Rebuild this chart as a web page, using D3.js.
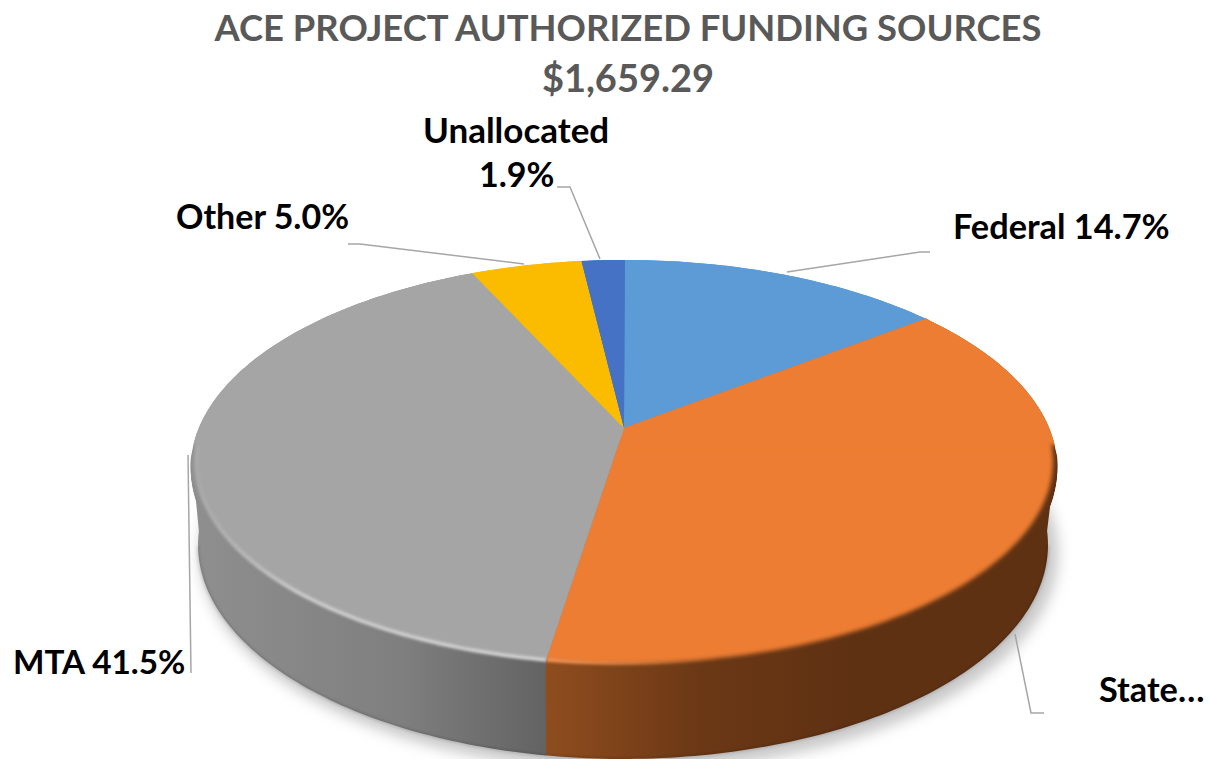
<!DOCTYPE html>
<html>
<head>
<meta charset="utf-8">
<script src="https://cdn.jsdelivr.net/npm/d3@7"></script>
<style>
  html, body { margin: 0; background: #fff; }
  text { font-family: Lato, "Open Sans", sans-serif; font-weight: 700; }
</style>
</head>
<body>
<div id="chart"></div>
<script>
'use strict';

const categories = ['Federal', 'State', 'MTA', 'Other', 'Unallocated'];
const values = [14.7, 38.7, 41.5, 5.0, 1.9];
const colors = ['#5b9bd5', '#ed7d31', '#a5a5a5', '#fbbc04', '#4472c4'];
const titleLines = ['ACE PROJECT AUTHORIZED FUNDING SOURCES', '$1,659.29'];

const width = 1210, height = 759;

// perspective of the disc: apex of the slices, then the three ellipses of the puck
const apex = { x: 624, y: 428 };
const persp = { R: 422.2, S: 195.6, k: 0.164 };
const face = { cx: 624, cy: 461, rx: 428, ry: 201 };
const rim = { cx: 624, cy: 468.5, rx: 433.5, ry: 208.5 };
const base = { cx: 623, cy: 545, rx: 425, ry: 214 };
const bevelTop = 445;

// side wall colours, left to right
const wallStops = {
  State: [[545, '#8f4d1e'], [700, '#6b3815'], [850, '#5f3113'], [1057, '#5f3113']],
  MTA: [[190, '#8f8f8f'], [400, '#7f7f7f'], [545, '#636363']]
};
const highlights = {
  State: [[545, '#ff9f5f', 0.9], [720, '#ff9f5f', 0]],
  MTA: [[195, '#dcdcdc', 0.2], [300, '#dcdcdc', 0.85], [545, '#dcdcdc', 1]]
};

const labels = [
  { key: 'Federal', lines: [['Federal 14.7%', 953, 239, 34.3]], leader: [[787, 272], [920, 252], [930, 252]] },
  { key: 'State', lines: [['State…', 1099, 702, 34.3]], leader: [[1015, 634], [1031, 713], [1044, 713]] },
  { key: 'MTA', lines: [['MTA 41.5%', 13, 674, 33.3]], leader: [[188, 455], [191, 673]] },
  { key: 'Other', lines: [['Other 5.0%', 176, 229, 34]], leader: [[524, 264], [360, 244], [348, 244]] },
  { key: 'Unallocated', lines: [['Unallocated', 423, 143, 35], ['1.9%', 479, 187, 34]], leader: [[600, 259], [570, 187], [557, 187]] }
];

const slices = d3.pie().sort(null).value(d => d.value)(
  categories.map((name, i) => ({ name, value: values[i], color: colors[i] }))
);

// angle on the disc -> point on the perspective face
const onFace = a => {
  const u = Math.sin(a), v = -Math.cos(a), w = 1 - persp.k * v;
  return [apex.x + persp.R * u / w, apex.y + persp.S * v / w];
};
// same point moved over to another ellipse of the puck
const moveTo = (p, e) => [
  e.cx + (p[0] - face.cx) / face.rx * e.rx,
  e.cy + (p[1] - face.cy) / face.ry * e.ry
];
const sweep = (a0, a1) => {
  const n = Math.max(2, Math.ceil((a1 - a0) * 60));
  return d3.range(n + 1).map(i => a0 + (a1 - a0) * i / n);
};
const line = d3.line();
// small overlap so neighbouring slices leave no white hairline
const overlap = 0.002;

const svg = d3.select('#chart').append('svg')
  .attr('width', width)
  .attr('height', height)
  .style('display', 'block');

const defs = svg.append('defs');
const blur = (id, s) => defs.append('filter').attr('id', id)
  .attr('x', '-10%').attr('y', '-10%').attr('width', '120%').attr('height', '120%')
  .append('feGaussianBlur').attr('stdDeviation', s);
blur('soft', 2.2);
blur('softer', 1.8);
blur('shadow', 7);

const hGradient = (id, stops) => {
  const g = defs.append('linearGradient').attr('id', id)
    .attr('gradientUnits', 'userSpaceOnUse')
    .attr('x1', stops[0][0]).attr('x2', stops[stops.length - 1][0])
    .attr('y1', 0).attr('y2', 0);
  const t = d3.scaleLinear().domain([stops[0][0], stops[stops.length - 1][0]]).range([0, 1]);
  stops.forEach(s => g.append('stop')
    .attr('offset', t(s[0]))
    .attr('stop-color', s[1])
    .attr('stop-opacity', s.length > 2 ? s[2] : 1));
};

// drop shadow under the puck
svg.append('ellipse')
  .attr('cx', base.cx + 6).attr('cy', base.cy + 8)
  .attr('rx', base.rx + 4).attr('ry', base.ry + 3)
  .attr('fill', '#c8c8c8')
  .attr('filter', 'url(#shadow)');

// side walls, started a bit above the rim so they run under the bevel
// only the near part of the disc has a visible wall
const wallTop = { cx: rim.cx, cy: rim.cy - 3, rx: rim.rx, ry: rim.ry };
const walls = svg.append('g');
slices.forEach(d => {
  const name = d.data.name;
  if (!wallStops[name]) return;
  hGradient('wall-' + name, wallStops[name]);
  const angles = sweep(d.startAngle, d.endAngle + overlap)
    .filter(a => onFace(a)[1] >= face.cy - 15);
  const top = angles.map(a => moveTo(onFace(a), wallTop));
  const bottom = angles.map(a => moveTo(onFace(a), base)).reverse();
  walls.append('path')
    .attr('d', line(top.concat(bottom)) + 'Z')
    .attr('fill', `url(#wall-${name})`);
});

// dark line along the bottom edge of the wall
const edge = svg.append('g');
slices.forEach(d => {
  if (!wallStops[d.data.name]) return;
  const angles = sweep(d.startAngle, d.endAngle).filter(a => onFace(a)[1] >= face.cy);
  edge.append('path')
    .attr('d', line(angles.map(a => moveTo(onFace(a), base))))
    .attr('fill', 'none')
    .attr('stroke', '#000')
    .attr('stroke-opacity', 0.25)
    .attr('stroke-width', 1.5)
    .attr('filter', 'url(#softer)');
});

// top of the puck: bevel ring + blurred face, cut to each wedge
const whole = line(sweep(0, 2 * Math.PI).map(onFace)) + 'Z';
const tops = svg.append('g');
slices.forEach((d, i) => {
  const name = d.data.name;
  const end = d.endAngle + overlap;
  const outer = sweep(d.startAngle, end).map(a => moveTo(onFace(a), rim));
  const wedge = [[apex.x, apex.y], onFace(d.startAngle)].concat(outer, [onFace(end)]);

  defs.append('clipPath').attr('id', 'wedge-' + i)
    .append('path').attr('d', line(wedge) + 'Z');

  const g = tops.append('g').attr('clip-path', `url(#wedge-${i})`);

  const rimFill = wallStops[name] ? `url(#wall-${name})` : d.data.color;
  g.append('path').attr('d', line(wedge) + 'Z').attr('fill', rimFill);

  // the face is grown a little so the back edge stays crisp
  g.append('path')
    .attr('d', whole)
    .attr('fill', d.data.color)
    .attr('stroke', d.data.color)
    .attr('stroke-width', 2)
    .attr('filter', 'url(#soft)');

  // no bevel on the far half of the disc
  g.append('rect')
    .attr('x', 0).attr('y', 0)
    .attr('width', width).attr('height', bevelTop)
    .attr('fill', d.data.color)
    .attr('filter', 'url(#soft)');

  if (highlights[name]) {
    hGradient('hl-' + name, highlights[name]);
    g.append('path')
      .attr('d', line(sweep(d.startAngle, d.endAngle).filter(a => onFace(a)[1] >= bevelTop).map(onFace)))
      .attr('fill', 'none')
      .attr('stroke', `url(#hl-${name})`)
      .attr('stroke-width', 3.5)
      .attr('transform', 'translate(0,1)')
      .attr('filter', 'url(#softer)');
  }
});

// title
svg.append('g').selectAll('text')
  .data(titleLines)
  .join('text')
  .attr('x', 628)
  .attr('y', (d, i) => 41 + i * 51)
  .attr('text-anchor', 'middle')
  .attr('font-size', (d, i) => i ? 38 : 36.4)
  .attr('fill', '#595959')
  .text(d => d);

// leaders and data labels
const notes = svg.append('g');
labels.forEach(l => {
  notes.append('path')
    .attr('d', line(l.leader))
    .attr('fill', 'none')
    .attr('stroke', '#a6a6a6')
    .attr('stroke-width', 1.5);
  l.lines.forEach(t => {
    notes.append('text')
      .attr('x', t[1])
      .attr('y', t[2])
      .attr('font-size', t[3])
      .attr('fill', '#000')
      .text(t[0]);
  });
});
</script>
</body>
</html>
